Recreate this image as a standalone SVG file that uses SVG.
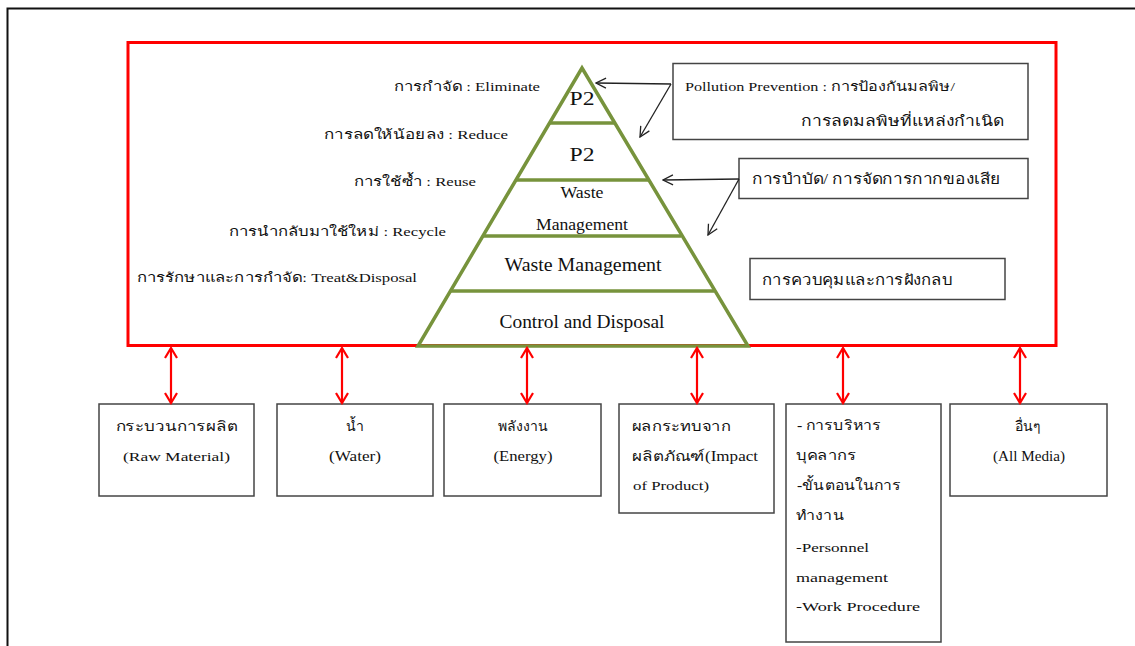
<svg xmlns="http://www.w3.org/2000/svg" width="1135" height="646" viewBox="0 0 1135 646">
  <style>
    text { font-family: "Liberation Serif", "DejaVu Serif", "Noto Sans", serif; fill: #111; }
    .lbl { font-size: 13px; }
    .pyr { font-size: 19px; }
    .box { fill: #fff; stroke: #444; stroke-width: 1.5; }
    .bt { font-size: 14px; }
    .tier { fill: none; stroke: #77933C; stroke-width: 3.5; }
    .note { stroke: #222; stroke-width: 1.3; fill: none; }
    .link { stroke: #f00; stroke-width: 2.2; fill: none; }
  </style>
  <defs>
    <marker id="openHead" viewBox="0 0 12 12" refX="11" refY="6" markerWidth="12" markerHeight="12" markerUnits="userSpaceOnUse" orient="auto">
      <path d="M1,1 L11,6 L1,11" fill="none" stroke="#222" stroke-width="1.3"/>
    </marker>
    <marker id="redHead" viewBox="0 0 14 14" refX="12" refY="7" markerWidth="14" markerHeight="14" markerUnits="userSpaceOnUse" orient="auto-start-reverse">
      <path d="M2,1 L12,7 L2,13" fill="none" stroke="#f00" stroke-width="2.2"/>
    </marker>
  </defs>

  <rect width="1135" height="646" fill="#fff"/>
  <!-- page frame -->
  <path d="M7.5,646 V8.5 H1135" fill="none" stroke="#111" stroke-width="2"/>

  <!-- process boundary -->
  <rect id="boundary" x="128" y="42.5" width="928" height="303" fill="none" stroke="#f00" stroke-width="3"/>

  <!-- hierarchy pyramid -->
  <g id="pyramid">
    <path class="tier" d="M582,68 L748,346 L418,346 Z"/>
    <line class="tier" x1="550" y1="123" x2="614" y2="123"/>
    <line class="tier" x1="516" y1="180" x2="648" y2="180"/>
    <line class="tier" x1="483" y1="236" x2="681" y2="236"/>
    <line class="tier" x1="450" y1="291" x2="714" y2="291"/>
    <text class="pyr" x="582" y="105" text-anchor="middle" textLength="25" lengthAdjust="spacingAndGlyphs">P2</text>
    <text class="pyr" x="582" y="161" text-anchor="middle" textLength="25" lengthAdjust="spacingAndGlyphs">P2</text>
    <text x="582" y="198" text-anchor="middle" font-size="16" textLength="43" lengthAdjust="spacingAndGlyphs">Waste</text>
    <text x="582" y="230" text-anchor="middle" font-size="16" textLength="92" lengthAdjust="spacingAndGlyphs">Management</text>
    <text class="pyr" x="583" y="271" text-anchor="middle" textLength="157" lengthAdjust="spacingAndGlyphs">Waste Management</text>
    <text x="582" y="328" text-anchor="middle" font-size="18" textLength="165" lengthAdjust="spacingAndGlyphs">Control and Disposal</text>
  </g>

  <!-- hierarchy level labels -->
  <g id="levels" class="lbl">
    <text x="540" y="91" text-anchor="end" textLength="146" lengthAdjust="spacingAndGlyphs">การกำจัด : Eliminate</text>
    <text x="508" y="139" text-anchor="end" textLength="184" lengthAdjust="spacingAndGlyphs">การลดให้น้อยลง : Reduce</text>
    <text x="476" y="186" text-anchor="end" textLength="122" lengthAdjust="spacingAndGlyphs">การใช้ซ้ำ : Reuse</text>
    <text x="446" y="236" text-anchor="end" textLength="217" lengthAdjust="spacingAndGlyphs">การนำกลับมาใช้ใหม่ : Recycle</text>
    <text x="137" y="282" textLength="280" lengthAdjust="spacingAndGlyphs">การรักษาและการกำจัด: Treat&amp;Disposal</text>
  </g>

  <!-- side notes -->
  <g id="note-p2">
    <rect class="box" x="673" y="63.5" width="355" height="76"/>
    <text x="685" y="91" font-size="13" textLength="270" lengthAdjust="spacingAndGlyphs">Pollution Prevention :  การป้องกันมลพิษ/</text>
    <text x="801" y="126" font-size="14.5" textLength="203" lengthAdjust="spacingAndGlyphs">การลดมลพิษที่แหล่งกำเนิด</text>
  </g>
  <g id="note-waste">
    <rect class="box" x="739" y="158.5" width="289" height="40"/>
    <text x="752" y="184" font-size="14.5" textLength="248" lengthAdjust="spacingAndGlyphs">การบำบัด/ การจัดการกากของเสีย</text>
  </g>
  <g id="note-control">
    <rect class="box" x="750" y="258.5" width="255" height="41"/>
    <text x="762" y="285" font-size="14.5" textLength="190" lengthAdjust="spacingAndGlyphs">การควบคุมและการฝังกลบ</text>
  </g>

  <!-- input / impact boxes -->
  <g id="raw-material">
    <rect class="box" x="99" y="404" width="155" height="92"/>
    <text class="bt" x="176.5" y="431" text-anchor="middle" textLength="122" lengthAdjust="spacingAndGlyphs">กระบวนการผลิต</text>
    <text x="176.5" y="461" text-anchor="middle" font-size="13" textLength="107" lengthAdjust="spacingAndGlyphs">(Raw Material)</text>
  </g>
  <g id="water">
    <rect class="box" x="277" y="404" width="156" height="92"/>
    <text class="bt" x="355" y="431" text-anchor="middle">น้ำ</text>
    <text x="355" y="461" text-anchor="middle" font-size="14" textLength="52" lengthAdjust="spacingAndGlyphs">(Water)</text>
  </g>
  <g id="energy">
    <rect class="box" x="444" y="404" width="157" height="92"/>
    <text class="bt" x="523" y="431" text-anchor="middle">พลังงาน</text>
    <text x="523" y="461" text-anchor="middle" font-size="14" textLength="59" lengthAdjust="spacingAndGlyphs">(Energy)</text>
  </g>
  <g id="product-impact">
    <rect class="box" x="619" y="404" width="155" height="109"/>
    <text class="bt" x="632" y="431" textLength="98" lengthAdjust="spacingAndGlyphs">ผลกระทบจาก</text>
    <text class="bt" x="632" y="461" textLength="126" lengthAdjust="spacingAndGlyphs">ผลิตภัณฑ์(Impact</text>
    <text x="633" y="490" font-size="13" textLength="76" lengthAdjust="spacingAndGlyphs">of Product)</text>
  </g>
  <g id="personnel">
    <rect class="box" x="786" y="404" width="155" height="238"/>
    <text class="bt" x="797" y="430" textLength="84" lengthAdjust="spacingAndGlyphs">- การบริหาร</text>
    <text class="bt" x="796" y="460" textLength="60" lengthAdjust="spacingAndGlyphs">บุคลากร</text>
    <text class="bt" x="797" y="490" textLength="104" lengthAdjust="spacingAndGlyphs">-ขั้นตอนในการ</text>
    <text class="bt" x="796" y="520" textLength="48" lengthAdjust="spacingAndGlyphs">ทำงาน</text>
    <text x="796" y="552" font-size="12.5" textLength="73" lengthAdjust="spacingAndGlyphs">-Personnel</text>
    <text x="796" y="582" font-size="12.5" textLength="92" lengthAdjust="spacingAndGlyphs">management</text>
    <text x="796" y="611" font-size="12.5" textLength="124" lengthAdjust="spacingAndGlyphs">-Work Procedure</text>
  </g>
  <g id="all-media">
    <rect class="box" x="950" y="404" width="157" height="92"/>
    <text class="bt" x="1028" y="431" text-anchor="middle">อื่นๆ</text>
    <text x="1029" y="461" text-anchor="middle" font-size="14" textLength="72" lengthAdjust="spacingAndGlyphs">(All Media)</text>
  </g>

  <!-- connectors -->
  <g id="connectors">
    <line class="note" x1="671" y1="84" x2="596" y2="83" marker-end="url(#openHead)"/>
    <line class="note" x1="671" y1="84" x2="640" y2="137" marker-end="url(#openHead)"/>
    <line class="note" x1="739" y1="179" x2="663" y2="180" marker-end="url(#openHead)"/>
    <line class="note" x1="739" y1="179" x2="708" y2="235" marker-end="url(#openHead)"/>

    <line class="link" x1="171" y1="348" x2="171" y2="403" marker-start="url(#redHead)" marker-end="url(#redHead)"/>
    <line class="link" x1="342" y1="348" x2="342" y2="403" marker-start="url(#redHead)" marker-end="url(#redHead)"/>
    <line class="link" x1="527" y1="348" x2="527" y2="403" marker-start="url(#redHead)" marker-end="url(#redHead)"/>
    <line class="link" x1="697" y1="348" x2="697" y2="403" marker-start="url(#redHead)" marker-end="url(#redHead)"/>
    <line class="link" x1="843" y1="348" x2="843" y2="403" marker-start="url(#redHead)" marker-end="url(#redHead)"/>
    <line class="link" x1="1020" y1="348" x2="1020" y2="403" marker-start="url(#redHead)" marker-end="url(#redHead)"/>
  </g>
</svg>
